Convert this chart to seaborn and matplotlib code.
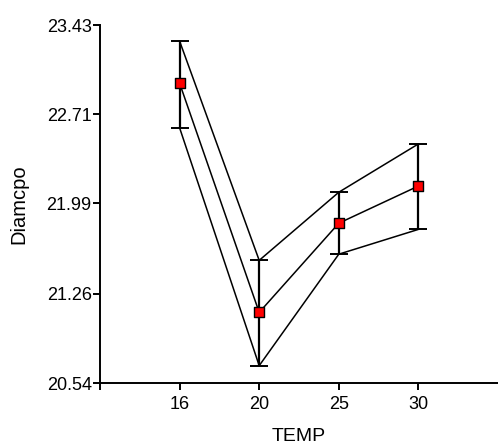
import numpy as np
import pandas as pd
import matplotlib
matplotlib.use('Agg')
import matplotlib.pyplot as plt
import seaborn as sns

# values
temp = ['16', '20', '25', '30']
diam_mean = [22.96, 21.11, 21.83, 22.13]
diam_low = [22.60, 20.68, 21.58, 21.78]
diam_high = [23.30, 21.53, 22.08, 22.47]
ytick_vals = [20.54, 21.26, 21.99, 22.71, 23.43]

sns.set_style('ticks')
plt.rcParams['font.family'] = ['Liberation Sans', 'DejaVu Sans']
plt.rcParams['text.color'] = 'black'
plt.rcParams['axes.labelcolor'] = 'black'
plt.rcParams['xtick.color'] = 'black'
plt.rcParams['ytick.color'] = 'black'

pos = list(range(len(temp)))
df = pd.DataFrame({'pos': pos, 'mean': diam_mean, 'low': diam_low, 'high': diam_high})

fig = plt.figure(figsize=(4.98, 4.44), dpi=100)
ax = fig.add_axes([100 / 498, 61 / 444, 398 / 498, 358 / 444])

# lines through mean and the ends of the bars
for col in ['high', 'mean', 'low']:
    sns.lineplot(data=df, x='pos', y=col, ax=ax, color='black', linewidth=1.1, zorder=2)

yerr = [np.array(diam_mean) - np.array(diam_low), np.array(diam_high) - np.array(diam_mean)]
ax.errorbar(pos, diam_mean, yerr=yerr, fmt='none', ecolor='black', elinewidth=1.6,
            capsize=6.5, capthick=1.4, zorder=3)
sns.scatterplot(data=df, x='pos', y='mean', ax=ax, marker='s', s=42, color='red',
                edgecolor='black', linewidth=1.0, zorder=4)

ax.set_xlim(-1, 4)
ax.set_ylim(20.54, 23.43)
ax.set_xticks([-1] + pos)
ax.set_xticklabels([''] + temp)
ax.set_yticks(ytick_vals)
ax.set_yticklabels(['%.2f' % v for v in ytick_vals])
ax.tick_params(axis='both', labelsize=13, width=1.4, length=5, direction='out',
               color='black', labelcolor='black')
ax.tick_params(axis='x', pad=4)
ax.tick_params(axis='y', pad=1)

for s in ['top', 'right']:
    ax.spines[s].set_visible(False)
for s in ['left', 'bottom']:
    ax.spines[s].set_linewidth(1.4)
    ax.spines[s].set_color('black')

ax.set_xlabel('TEMP', fontsize=14, color='black')
ax.xaxis.set_label_coords(0.5, -0.125)
ax.set_ylabel('Diamcpo', fontsize=14.5, color='black')
ax.yaxis.set_label_coords(-0.181, 0.5)

fig.savefig('out.png', dpi=100)
